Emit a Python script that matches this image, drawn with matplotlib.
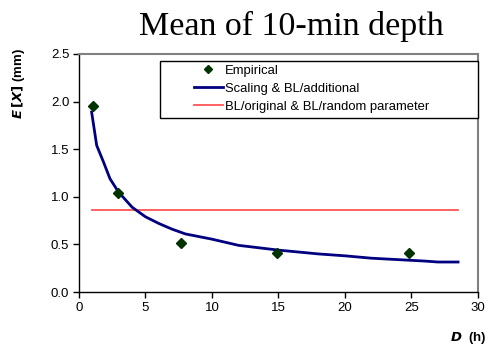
import matplotlib
matplotlib.use('Agg')
import matplotlib.pyplot as plt
from matplotlib.patches import Rectangle

# Empirical means
emp_d = [1.05, 2.97, 7.65, 14.9, 24.8]
emp_x = [1.955, 1.035, 0.51, 0.405, 0.405]

# Scaling & BL/additional curve
fit_d = [0.95, 1.33, 1.83, 2.33, 2.97, 4.0, 5.0, 6.0, 7.0, 8.0, 10.0, 12.0,
         15.0, 18.0, 20.0, 22.0, 24.0, 26.0, 27.0, 28.5]
fit_x = [1.89, 1.54, 1.37, 1.19, 1.05, 0.89, 0.79, 0.72, 0.66, 0.61, 0.555,
         0.49, 0.44, 0.40, 0.38, 0.355, 0.34, 0.325, 0.315, 0.315]

# BL/original & BL/random parameter (constant)
bl_d = [0.95, 28.5]
bl_x = [0.865, 0.865]

plt.rcParams['font.family'] = ['Liberation Sans', 'DejaVu Sans']

fig = plt.figure(figsize=(4.9, 3.49), dpi=100)
ax = fig.add_axes([0.1612, 0.1633, 0.8143, 0.682])

ax.plot(emp_d, emp_x, linestyle='none', marker='D', markersize=5,
        color='#003300', label='Empirical', zorder=4)
ax.plot(fit_d, fit_x, color='#000080', lw=2, label='Scaling & BL/additional', zorder=3)
ax.plot(bl_d, bl_x, color='#ff5555', lw=1.3,
        label='BL/original & BL/random parameter', zorder=2)

ax.set_xlim(0, 30)
ax.set_ylim(0, 2.5)
ax.set_xticks([0, 5, 10, 15, 20, 25, 30])
ax.set_yticks([0, 0.5, 1.0, 1.5, 2.0, 2.5])
ax.set_yticklabels(['0.0', '0.5', '1.0', '1.5', '2.0', '2.5'])
ax.tick_params(labelsize=9.5, direction='out', length=4, width=1, pad=3)

for s in ['top', 'right']:
    ax.spines[s].set_color('#808080')
    ax.spines[s].set_linewidth(1.5)
for s in ['left', 'bottom']:
    ax.spines[s].set_color('black')
    ax.spines[s].set_linewidth(1)

# legend box drawn separately so the entries can sit inset from its left edge
box = Rectangle((0.203, 0.732), 0.797, 0.24, transform=ax.transAxes,
                facecolor='white', edgecolor='black', lw=1, zorder=5, clip_on=False)
ax.add_patch(box)
leg = ax.legend(loc='upper left', bbox_to_anchor=(0.278, 0.972),
                fontsize=9.4, frameon=False, markerscale=0.8,
                borderpad=0.3, labelspacing=0.45, handlelength=2.2,
                handletextpad=0.15, borderaxespad=0)
leg.set_zorder(6)

fig.text(0.038, 0.76, r'$\mathbfit{E}\,\mathbf{[}\mathbfit{X}\mathbf{]}$ (mm)', rotation=90,
         ha='center', va='center', fontsize=9.5, fontweight='bold')
fig.text(0.955, 0.032, r'$\mathbfit{D}$  (h)', ha='center', va='center',
         fontsize=9.5, fontweight='bold')

fig.text(0.595, 0.925, 'Mean of 10-min depth', ha='center', va='center',
         fontsize=24.5, family='Liberation Serif')

fig.savefig('out.png', dpi=100)
